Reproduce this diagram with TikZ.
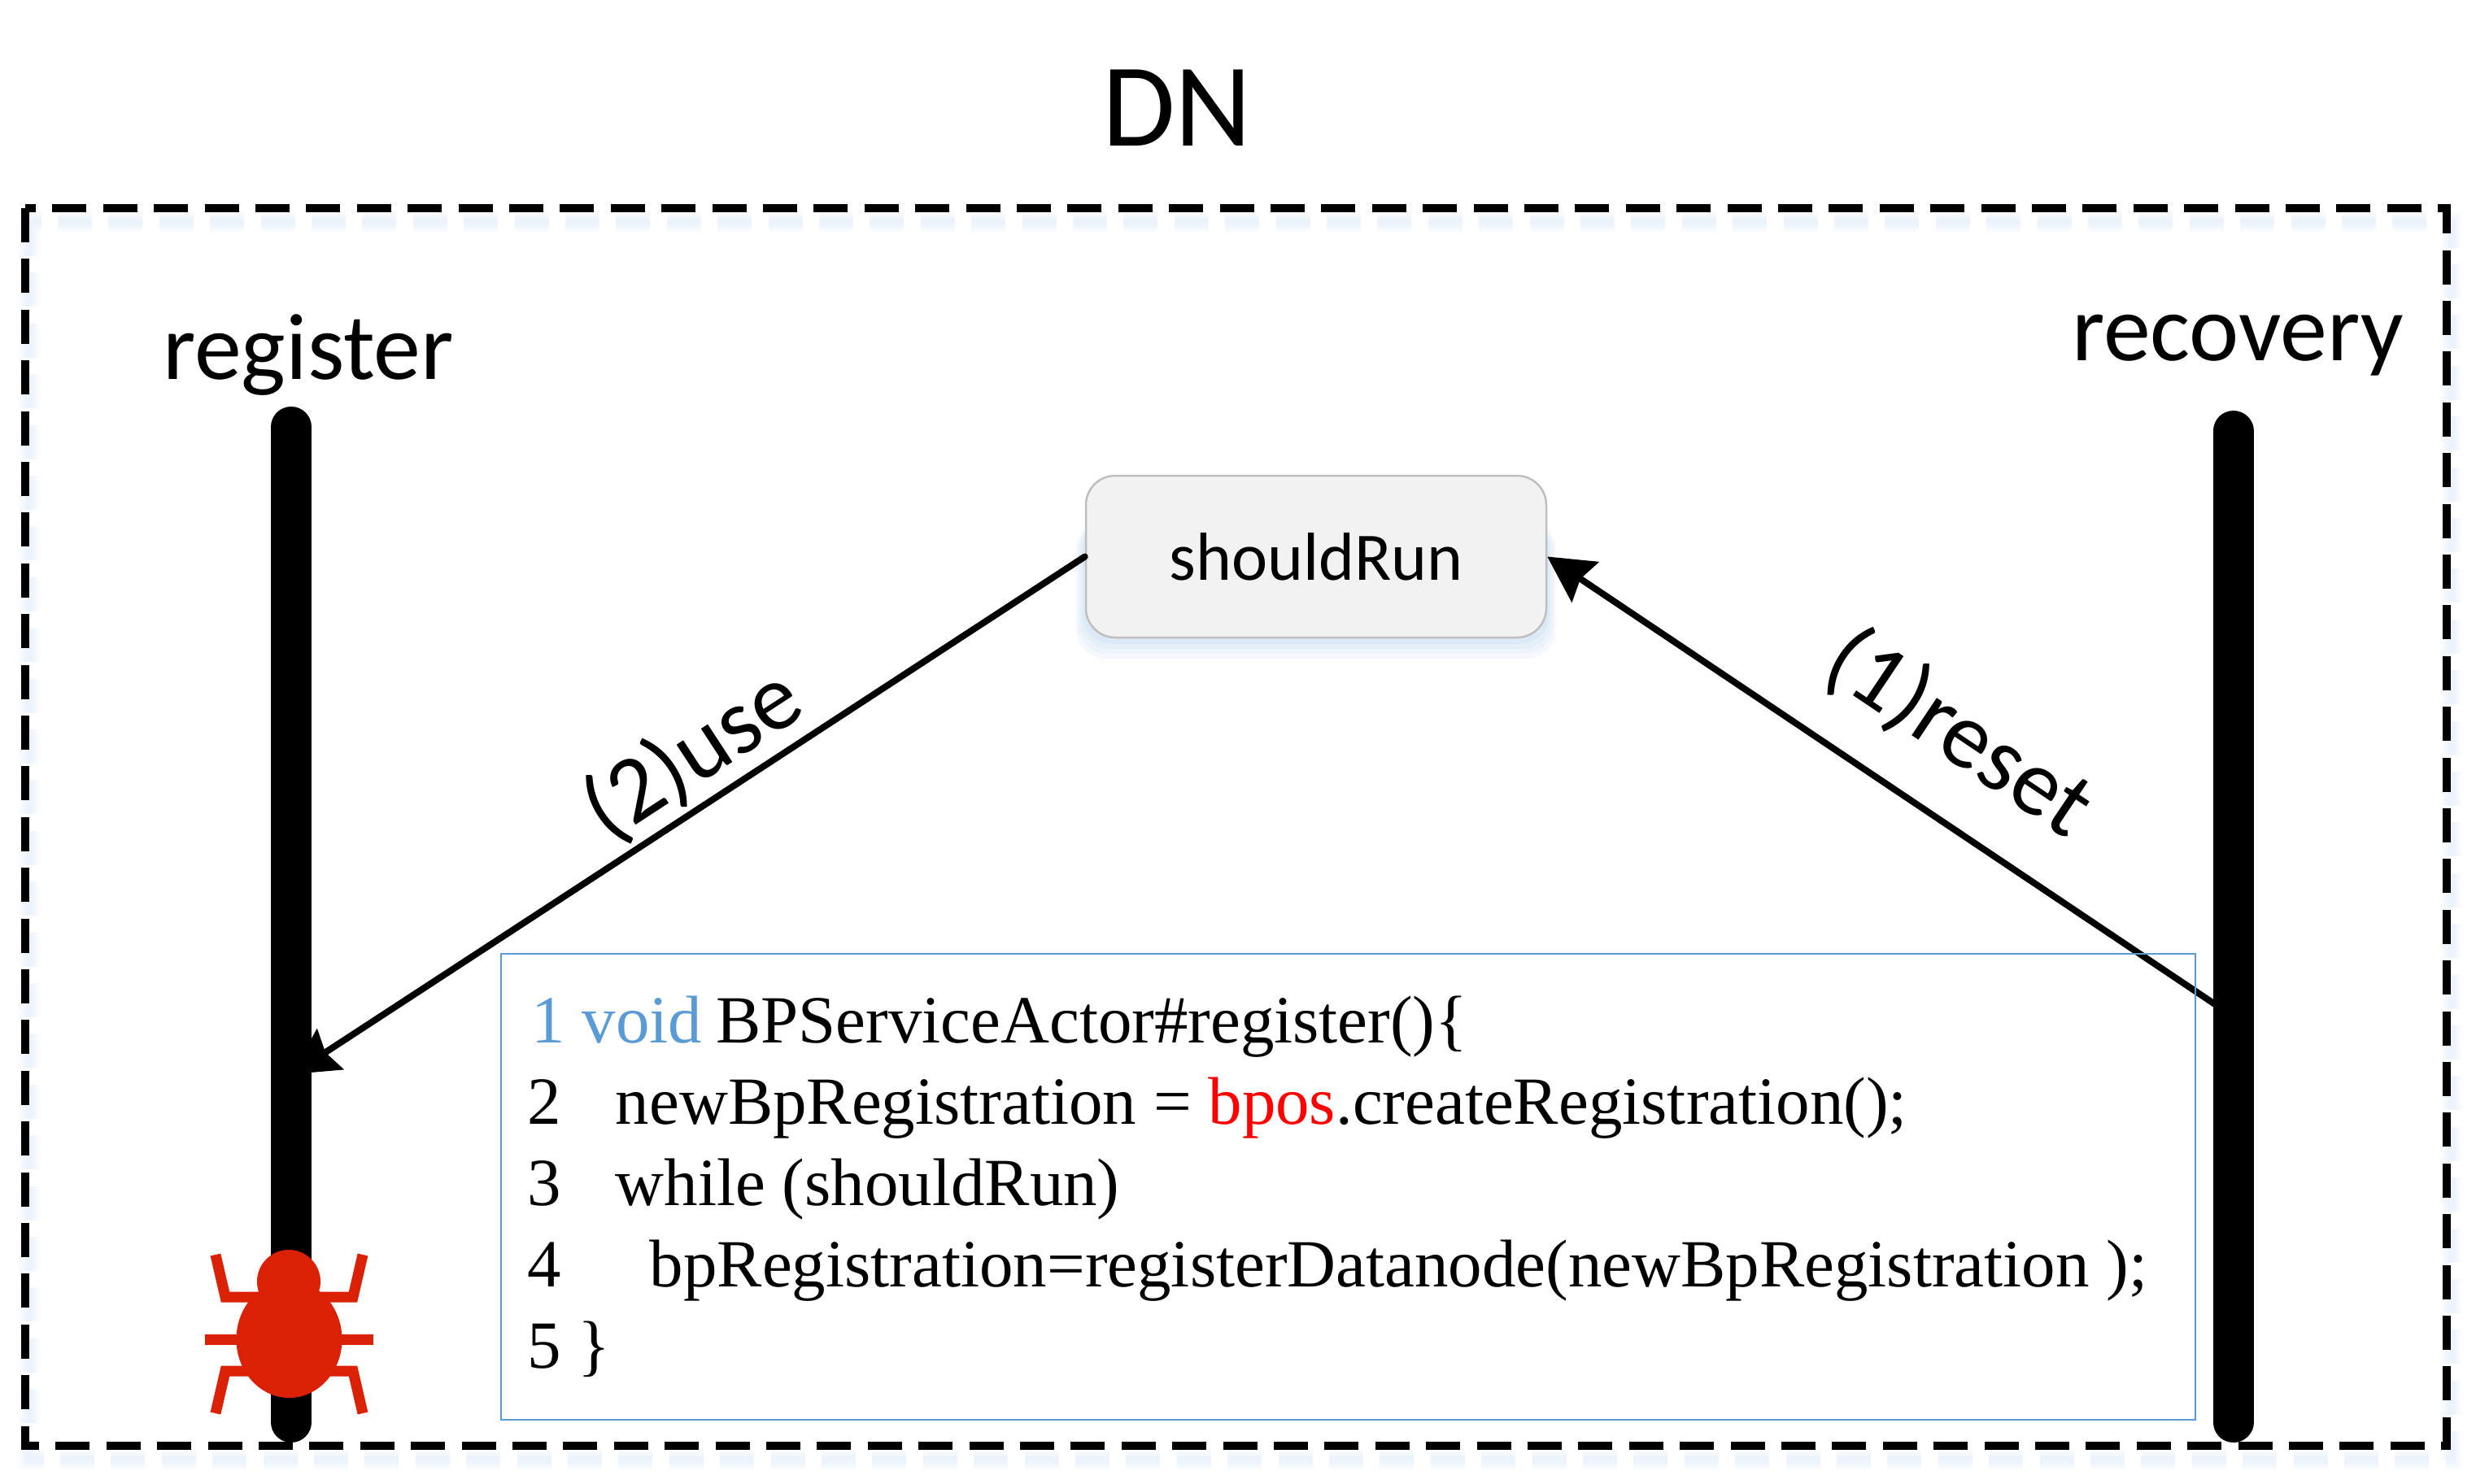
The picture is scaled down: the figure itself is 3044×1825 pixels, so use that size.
\documentclass[tikz,border=0pt]{standalone}
\usepackage{fontspec}
\setmainfont{Carlito}
\newfontfamily\codefont{Liberation Serif}
\usepackage{xcolor}
\usetikzlibrary{arrows.meta,calc}
\definecolor{bugred}{HTML}{DA2106}
\definecolor{codeblue}{HTML}{5B9BD5}
\definecolor{glowblue}{HTML}{5B9BD5}
\tikzset{
	frameline/.style={line width=1mm,dash pattern=on 4.2mm off 2.04mm},
	lifeline/.style={line width=5mm,line cap=round},
	flow/.style={->,line width=0.8mm,line cap=round},
	title/.style={font=\fontsize{41.5}{42}\selectfont,inner sep=0pt,anchor=base},
	threadname/.style={font=\fontsize{33}{33}\selectfont,inner sep=0pt,anchor=base},
	steplabel/.style={font=\fontsize{33}{34}\selectfont,inner sep=0pt},
	varbox/.style={draw=black!25,fill=black!5,line width=0.25mm,rounded corners=3.6mm,minimum width=56.6mm,minimum height=19.9mm,inner sep=0pt,font=\fontsize{23.8}{24}\selectfont},
	codebox/.style={draw=codeblue,line width=0.25mm,minimum width=208.3mm,minimum height=57.3mm,inner sep=0pt},
	bugleg/.style={draw=bugred,line width=1.3mm,miter limit=10}
}
\begin{document}
\begin{tikzpicture}[x=0.1mm,y=-0.1mm,>={Stealth[length=5.6mm,width=5.9mm,inset=0.7mm]}]
	\useasboundingbox (0,0) rectangle (3044,1825);

	% soft shadows
	\foreach \w in {2.6,2,1.4,0.8}{
		\draw[glowblue,opacity=0.03,line width=\w mm,dash pattern=on 4.2mm off 2.04mm] (36,273) -- (36,1795) -- (3014,1795) -- (3014,273) -- cycle;
		\fill[glowblue,opacity=0.06,rounded corners=3.6mm] (1334.5-\w*4.5,640) rectangle (1901+\w*4.5,784+\w*10);
	}

	% frame and title
	\draw[frameline] (30.5,256) -- (30.5,1778) -- (3008,1778) -- (3008,256) -- cycle;
	\node[title] (dn) at (1447,179) {DN};

	% threads
	\node[threadname] (register) at (379,466) {register};
	\node[threadname] (recovery) at (2751,443) {recovery};
	\draw[lifeline] (358,525) -- (358,1749);
	\draw[lifeline] (2745.5,530) -- (2745.5,1749);

	% shared variable
	\node[varbox] (shouldrun) at (1618,684.5) {shouldRun};

	% accesses
	\coordinate (useend) at (359,1321);
	\coordinate (resetstart) at (2729,1239);
	\draw[flow] (shouldrun.west) -- (useend) node[pos=0.461,sloped,above=0.5mm,steplabel] (uselabel) {(2)use};
	\draw[flow] (resetstart) -- (shouldrun.east) node[pos=0.456,sloped,above=4.7mm,steplabel] (resetlabel) {(1)reset};

	% code
	\node[codebox] (code) at (1657.5,1459.5) {};
	\node[anchor=base west,inner sep=0pt,align=left,font=\codefont\fontsize{23.6}{28.4}\selectfont] (listing) at (648,1682) {%
		\textcolor{codeblue}{\hspace{0.5mm}1 void}\hspace{-0.4mm} BPServiceActor\#register()\{\\
		2\hspace{4.6mm} newBpRegistration = \textcolor{red}{bpos}.createRegistration();\\
		3\hspace{4.6mm} while (shouldRun)\\
		4\hspace{8.8mm} bpRegistration=registerDatanode(newBpRegistration );\\
		5 \}};

	% bug
	\draw[bugleg] (252,1647) -- (459,1647);
	\draw[bugleg] (355,1595) -- (277,1595) -- (265,1543);
	\draw[bugleg] (355,1595) -- (434,1595) -- (446,1543);
	\draw[bugleg] (355,1686) -- (277,1686) -- (265,1738);
	\draw[bugleg] (355,1686) -- (434,1686) -- (446,1738);
	\fill[bugred] (355,1576) circle (3.9mm);
	\fill[bugred] (355.5,1647) ellipse (6.5mm and 7.2mm);
\end{tikzpicture}
\end{document}
